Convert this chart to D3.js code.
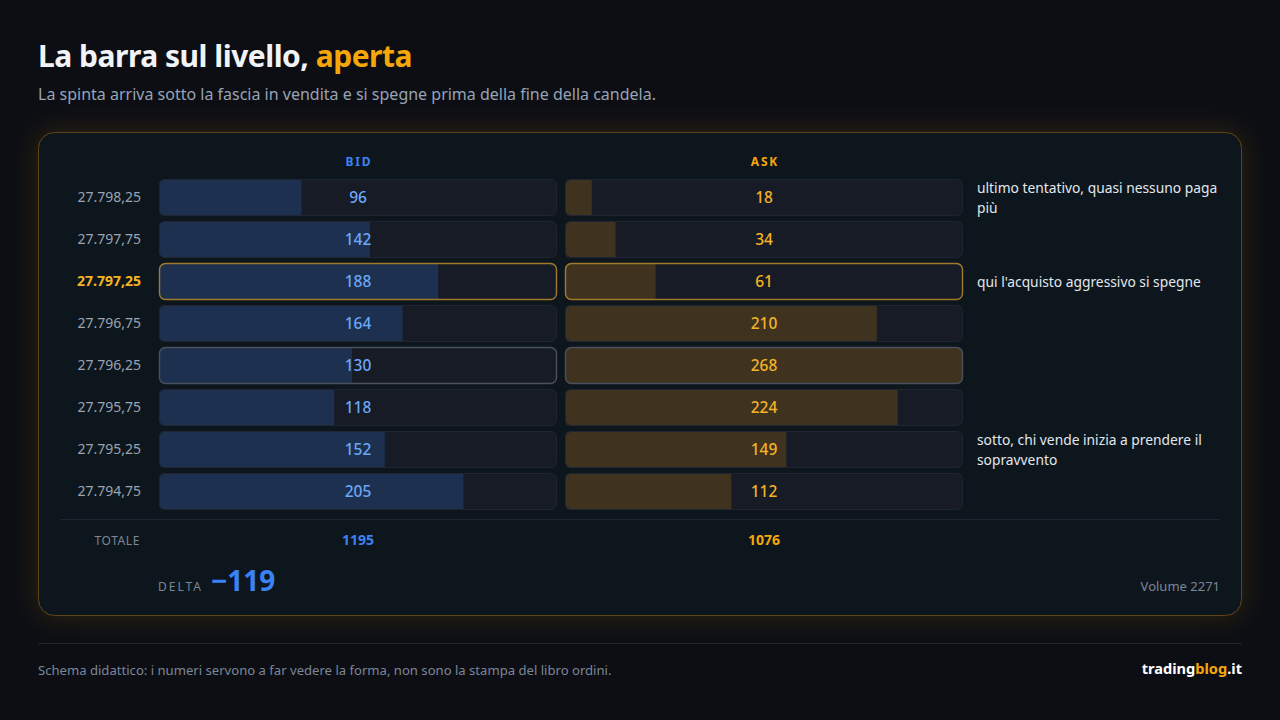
<!DOCTYPE html>
<html>
<head>
<meta charset="utf-8">
<script src="https://cdn.jsdelivr.net/npm/d3@7"></script>
<style>
  html, body { margin: 0; padding: 0; background: #0c0e13; }
  svg { display: block; font-family: "Noto Sans", "Open Sans", sans-serif; }
</style>
</head>
<body>
<div id="chart"></div>
<script>
// data
var prices = ["27.798,25", "27.797,75", "27.797,25", "27.796,75", "27.796,25", "27.795,75", "27.795,25", "27.794,75"];
var bidVol = [96, 142, 188, 164, 130, 118, 152, 205];
var askVol = [18, 34, 61, 210, 268, 224, 149, 112];
var notes = [
  ["ultimo tentativo, quasi nessuno paga", "più"],
  [],
  ["qui l'acquisto aggressivo si spegne"],
  [],
  [],
  [],
  ["sotto, chi vende inizia a prendere il", "sopravvento"],
  []
];
var focusRow = "27.797,25";
var markRow = "27.796,25";

var W = 1280, H = 720;
var svg = d3.select("#chart").append("svg").attr("width", W).attr("height", H);

var defs = svg.append("defs");
var glow = defs.append("filter").attr("id", "glow")
  .attr("x", "-10%").attr("y", "-20%").attr("width", "120%").attr("height", "140%");
glow.append("feGaussianBlur").attr("in", "SourceAlpha").attr("stdDeviation", 14).attr("result", "b");
glow.append("feFlood").attr("flood-color", "#f5a70a").attr("flood-opacity", 0.16);
glow.append("feComposite").attr("in2", "b").attr("operator", "in").attr("result", "s");
var fm = glow.append("feMerge");
fm.append("feMergeNode").attr("in", "s");
fm.append("feMergeNode").attr("in", "SourceGraphic");

svg.append("rect").attr("width", W).attr("height", H).attr("fill", "#0c0e13");

// title
var title = svg.append("text").attr("x", 38).attr("y", 67)
  .attr("font-size", 30).attr("font-weight", 700).attr("letter-spacing", -0.5);
title.append("tspan").attr("fill", "#f1f3f7").text("La barra sul livello, ");
title.append("tspan").attr("fill", "#f5a70a").text("aperta");

svg.append("text").attr("x", 38).attr("y", 100)
  .attr("font-size", 16).attr("fill", "#97a3b6")
  .text("La spinta arriva sotto la fascia in vendita e si spegne prima della fine della candela.");

// card
svg.append("rect").attr("x", 38.5).attr("y", 132.5).attr("width", 1203).attr("height", 483)
  .attr("rx", 16).attr("fill", "#11151e").attr("stroke", "#5c4514").attr("stroke-width", 1)
  .attr("filter", "url(#glow)");

// scales
var y = d3.scaleBand().domain(prices).range([179, 510]).paddingInner(5 / 42);
var vmax = d3.max(bidVol.concat(askVol));
var x = d3.scaleLinear().domain([0, vmax]).range([0, 398]);
var cols = { bid: 159, ask: 565 };
var trackW = 398;

var hdr = [["BID", cols.bid, "#3b82f6"], ["ASK", cols.ask, "#f5a70a"]];
hdr.forEach(function(h) {
  svg.append("text").attr("x", h[1] + trackW / 2 + 1).attr("y", 166)
    .attr("text-anchor", "middle").attr("font-size", 12).attr("font-weight", 700)
    .attr("letter-spacing", 1.8).attr("fill", h[2]).text(h[0]);
});

var rows = prices.map(function(p, i) {
  return { price: p, bid: bidVol[i], ask: askVol[i], note: notes[i], i: i };
});

var g = svg.append("g");
var bw = y.bandwidth();

// price labels
g.selectAll(".price").data(rows).enter().append("text")
  .attr("x", 141).attr("y", d => y(d.price) + bw / 2)
  .attr("dy", "0.35em").attr("text-anchor", "end")
  .attr("font-size", 14)
  .attr("font-weight", d => d.price === focusRow ? 700 : 400)
  .attr("fill", d => d.price === focusRow ? "#f5b324" : "#9aa3b2")
  .text(d => d.price);

["bid", "ask"].forEach(function(side) {
  var x0 = cols[side];
  var fill = side === "bid" ? "#1e3050" : "#3f3320";
  var txt = side === "bid" ? "#6aa8f7" : "#f5b324";

  rows.forEach(function(d) {
    var cid = "clip-" + side + "-" + d.i;
    defs.append("clipPath").attr("id", cid).append("rect")
      .attr("x", x0).attr("y", y(d.price)).attr("width", trackW).attr("height", bw).attr("rx", 6);
  });

  var rg = g.selectAll(".row-" + side).data(rows).enter().append("g");

  rg.append("rect")
    .attr("x", x0).attr("y", d => y(d.price))
    .attr("width", trackW).attr("height", bw).attr("rx", 6)
    .attr("fill", "#161b26");

  rg.append("rect")
    .attr("clip-path", d => "url(#clip-" + side + "-" + d.i + ")")
    .attr("x", x0).attr("y", d => y(d.price))
    .attr("width", d => x(d[side])).attr("height", bw)
    .attr("fill", fill);

  rg.append("rect")
    .attr("x", x0 + 0.5).attr("y", d => y(d.price) + 0.5)
    .attr("width", trackW - 1).attr("height", bw - 1).attr("rx", 6)
    .attr("fill", "none")
    .attr("stroke", d => d.price === focusRow ? "#a17a2c" : (d.price === markRow ? "#4a505c" : "#1f2532"))
    .attr("stroke-width", d => (d.price === focusRow || d.price === markRow) ? 1.4 : 1);

  rg.append("text")
    .attr("x", x0 + trackW / 2).attr("y", d => y(d.price) + bw / 2)
    .attr("dy", "0.36em").attr("text-anchor", "middle")
    .attr("font-size", 15.5).attr("font-weight", 500).attr("fill", txt)
    .text(d => d[side]);
});

// notes
var nt = g.selectAll(".note").data(rows.filter(d => d.note.length)).enter().append("text")
  .attr("x", 977).attr("font-size", 13.8).attr("fill", "#e3e7ee");
nt.selectAll("tspan").data(d => d.note.map(function(l, k) { return { l: l, k: k, d: d }; }))
  .enter().append("tspan")
  .attr("x", 977)
  .attr("y", t => y(t.d.price) + (t.d.note.length > 1 ? 14 : 24) + t.k * 20)
  .text(t => t.l);

// separator
svg.append("line").attr("x1", 60).attr("x2", 1220).attr("y1", 519.5).attr("y2", 519.5)
  .attr("stroke", "#1f2532");

// totals
var totBid = d3.sum(bidVol), totAsk = d3.sum(askVol);
svg.append("text").attr("x", 140).attr("y", 545).attr("text-anchor", "end")
  .attr("font-size", 12).attr("letter-spacing", 0.6).attr("fill", "#7b8698").text("TOTALE");
svg.append("text").attr("x", cols.bid + trackW / 2).attr("y", 545).attr("text-anchor", "middle")
  .attr("font-size", 14).attr("font-weight", 700).attr("fill", "#3b82f6").text(totBid);
svg.append("text").attr("x", cols.ask + trackW / 2).attr("y", 545).attr("text-anchor", "middle")
  .attr("font-size", 14).attr("font-weight", 700).attr("fill", "#f5a70a").text(totAsk);

svg.append("text").attr("x", 158).attr("y", 591)
  .attr("font-size", 12).attr("letter-spacing", 2).attr("fill", "#7b8698").text("DELTA");
svg.append("text").attr("x", 211).attr("y", 591)
  .attr("font-size", 28).attr("font-weight", 700).attr("fill", "#3b82f6")
  .text("\u2212" + Math.abs(totAsk - totBid));
svg.append("text").attr("x", 1220).attr("y", 591).attr("text-anchor", "end")
  .attr("font-size", 13).attr("fill", "#7b8698").text("Volume " + (totBid + totAsk));

// footer
svg.append("line").attr("x1", 38).attr("x2", 1242).attr("y1", 643.5).attr("y2", 643.5)
  .attr("stroke", "#1f2532");
svg.append("text").attr("x", 38).attr("y", 675)
  .attr("font-size", 13.1).attr("fill", "#7b8698")
  .text("Schema didattico: i numeri servono a far vedere la forma, non sono la stampa del libro ordini.");
var brand = svg.append("text").attr("x", 1242).attr("y", 674).attr("text-anchor", "end")
  .attr("font-size", 14.6).attr("font-weight", 700);
brand.append("tspan").attr("fill", "#ffffff").text("trading");
brand.append("tspan").attr("fill", "#f5a70a").text("blog");
brand.append("tspan").attr("fill", "#ffffff").text(".it");
</script>
</body>
</html>
